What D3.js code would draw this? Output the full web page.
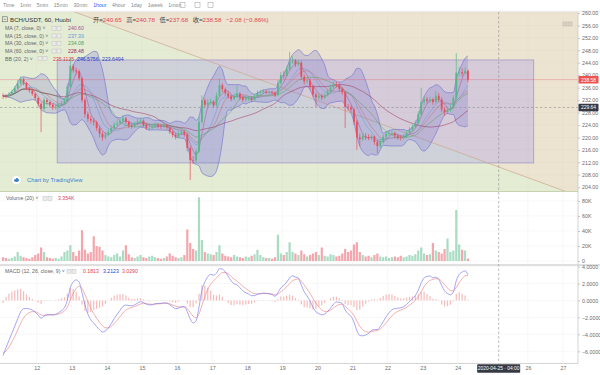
<!DOCTYPE html>
<html><head><meta charset="utf-8">
<script src="https://cdn.jsdelivr.net/npm/d3@7"></script>
<style>
body{margin:0;background:#fff}
svg{display:block}
text{font-family:"Liberation Sans","Noto Sans CJK SC",sans-serif}
</style>
</head><body>
<svg id="c" width="600" height="375"></svg>
<script>
// ---------------- DATA (2-hour bars, BCH/USDT Huobi) ----------------
const startTime = Date.UTC(2020, 3, 11, 0);
const barHours = 2;
const firstOpen = 233.5;
const closes = [233.3,233.2,233.8,234.6,235.8,237.3,238.7,237.5,235.8,235.1,
234.0,232.6,230.8,229.2,232.0,231.4,230.5,229.6,229.8,230.3,
230.9,231.8,236.4,243.0,241.6,241.2,239.0,232.0,227.5,226.0,
225.4,224.9,223.0,221.2,220.0,220.9,221.8,223.0,224.1,224.5,
225.2,226.1,225.0,223.8,223.6,224.4,225.1,225.4,224.0,223.0,
223.0,223.4,224.0,223.6,223.4,223.8,223.2,221.8,220.8,220.2,
221.2,221.8,221.0,216.6,212.7,212.6,215.5,225.0,231.9,230.5,
231.2,231.5,230.3,233.5,236.8,235.5,234.2,233.2,232.3,233.0,
234.0,232.8,232.1,232.5,232.5,232.1,233.1,234.3,234.5,234.8,
234.5,234.5,234.3,233.6,237.5,240.0,239.8,242.0,244.4,244.7,
243.5,244.0,239.5,238.0,238.3,236.3,233.8,232.9,233.4,232.8,
233.6,234.8,236.1,237.1,237.0,235.6,234.5,229.8,229.7,229.0,
225.0,220.0,219.4,220.4,220.1,219.7,220.3,218.5,217.2,218.6,
220.2,221.1,221.4,221.4,220.6,220.0,219.9,220.3,221.5,222.5,
223.4,224.7,227.5,231.4,232.3,231.8,232.2,231.4,233.4,232.2,
229.0,228.1,228.9,229.5,232.7,240.8,241.0,240.6,241.4,238.58];
const highs = [234.2,234.0,234.6,235.3,236.5,238.4,239.6,239.2,237.9,236.3,
235.5,234.3,232.9,231.2,232.8,232.6,231.9,230.9,230.6,231.0,
231.7,232.6,237.3,245.5,243.6,242.5,241.8,239.4,232.6,228.3,
226.9,226.3,225.4,223.6,221.9,221.7,222.6,223.8,225.0,225.5,
226.0,227.2,226.6,225.4,224.5,225.1,226.0,226.2,225.8,224.5,
223.8,224.2,224.8,224.6,224.2,224.5,224.3,223.5,222.3,221.4,
222.0,222.6,222.3,221.5,217.2,214.0,216.4,226.5,233.5,232.6,
232.3,232.5,232.0,234.4,239.0,237.4,236.0,234.8,233.8,233.9,
236.5,234.5,233.4,233.4,233.3,233.2,233.9,235.1,235.3,235.5,
235.3,235.2,235.1,234.8,238.4,241.0,241.3,242.9,247.5,246.0,
245.2,244.9,244.6,240.2,239.5,238.9,236.8,234.5,234.2,234.0,
234.4,235.6,236.9,238.0,237.9,237.5,236.1,234.9,230.8,230.4,
229.5,225.6,221.2,221.5,221.4,221.0,220.9,220.6,219.2,219.5,
221.0,222.0,222.3,222.2,221.9,221.2,220.8,221.1,222.3,223.3,
224.2,225.5,228.4,235.9,233.2,233.0,233.1,232.8,235.0,234.3,
232.9,229.8,229.7,230.5,233.5,247.1,242.6,242.2,242.6,241.9];
const lows = [232.4,232.5,232.8,233.4,234.2,235.4,236.9,236.8,235.2,234.4,
233.4,231.9,229.9,221.7,228.6,230.6,229.8,228.8,228.9,229.3,
230.0,230.5,231.4,236.0,240.8,240.2,238.3,231.2,226.4,225.0,
224.4,223.8,222.1,220.0,218.9,219.4,220.5,221.4,222.6,223.5,
224.0,224.9,224.3,223.0,222.8,223.1,224.0,224.6,223.4,222.4,
222.2,222.6,223.0,222.9,222.7,222.9,222.6,221.1,220.0,219.4,
219.8,220.8,220.2,215.5,206.3,211.5,212.0,215.0,224.5,229.6,
229.8,230.4,229.5,229.9,233.0,234.6,233.4,232.4,231.6,231.8,
232.6,232.0,231.4,231.5,231.7,231.4,231.8,232.7,233.8,233.9,
233.9,233.8,233.6,232.9,233.2,237.0,238.9,239.5,241.5,243.6,
242.6,242.8,238.6,237.0,237.2,235.5,233.0,229.8,232.1,232.0,
232.3,233.2,234.4,235.6,236.1,234.8,233.7,223.0,228.6,228.1,
224.0,216.0,217.2,218.8,219.2,219.1,219.0,217.6,215.0,216.6,
218.0,219.6,220.5,220.6,219.8,219.2,219.0,219.3,219.8,221.0,
222.0,222.9,224.2,227.0,230.4,230.9,231.0,230.5,230.9,231.3,
228.1,227.0,227.5,228.2,229.0,232.0,239.8,239.6,240.2,237.68];
const volumesK = [5,4,3,4,6,12,7,5,4,3,
5,8,10,18,12,5,4,3,4,3,
6,12,14,21,12,7,14,41,15,10,
12,33,20,19,14,8,6,5,8,10,
6,14,21,9,5,4,6,8,5,4,
6,7,5,4,3,4,6,10,7,5,
4,5,8,42,24,16,14,85,28,12,
10,9,8,12,21,10,7,6,5,8,
6,5,4,6,5,7,9,15,8,5,
4,4,3,5,35,10,8,12,25,12,
10,8,14,9,6,8,10,12,8,18,
7,6,9,8,6,7,10,16,12,14,
22,25,12,8,6,7,5,8,10,6,
5,6,4,5,6,5,7,5,6,8,
7,9,14,18,10,8,9,24,14,12,
10,16,30,12,14,68,22,15,14,3.354];
const macdSeed = [-6.5, -6.2];           // MACD / signal at first bar

const dayTicks = [12,13,14,15,16,17,18,19,20,21,22,23,24,26,27];
const priceTicks = [204,208,212,216,220,224,228,232,236,240,244,248,252,256,260];
const volumeTicksK = [0,20,40,60,80];
const macdTicks = [-6,-4,-2,0,2,4];
const toolbarItems = ["Time","1min","5min","15min","30min","1hour","4hour","1day","1week","1mon"];
const activeInterval = "1hour";
const maLegend = ["MA (7, close, 0)","MA (15, close, 0)","MA (30, close, 0)","MA (60, close, 0)"];
const maBars = [4, 8, 15, 30];            // same time spans on 2h bars
const maValues = ["240.60","237.39","234.08","228.48"];
const bbLegend = "BB (20, 2)";
const bbBars = 10;
const bbValues = ["235.1125","246.5756","223.6494"];
const ohlcLabels = ["开=","高=","低=","收="];
const ohlcValues = ["240.65","240.78","237.68","238.58"];
const changeText = "−2.08 (−0.86%)";
const volLegend = "Volume (20)", volValue = "3.354K";
const macdLegend = "MACD (12, 26, close, 9)";
const macdValues = ["0.1813","3.2123","3.0290"];
const lastPrice = 238.58, crossPrice = 229.64;
const crossTime = Date.UTC(2020,3,25,4), crossLabel = "2020-04-25 · 04:00";
const zoneBox = {t1: Date.UTC(2020,3,12,14), t2: Date.UTC(2020,3,26,4), p1: 244.9, p2: 211.8};
const trendLine = [{t: Date.UTC(2020,3,13,1), p: 260.5},{t: Date.UTC(2020,3,26,12), p: 205}];

// ---------------- LAYOUT ----------------
const svg = d3.select("#c");
const R = 578, mainTop = 12, mainBot = 191.5, macdTop = 265, macdBot = 363.5;
const x = d3.scaleUtc().domain([new Date(Date.UTC(2020,3,12)), new Date(Date.UTC(2020,3,27))]).range([36.7, 563]);
const yP = d3.scaleLinear().domain([204,260]).range([187.2,13]);
const yV = d3.scaleLinear().domain([0,80]).range([261,201]);
const yM = d3.scaleLinear().domain([-6,4]).range([351.3,266.6]);

const bars = closes.map((c,i)=>({
  t: new Date(startTime + (i*barHours + barHours/2)*3600e3),
  o: i ? closes[i-1] : firstOpen, c, h: highs[i], l: lows[i], v: volumesK[i]
}));
function sma(i,n){const s=Math.max(0,i-n+1);const a=closes.slice(s,i+1);return d3.mean(a);}
bars.forEach((b,i)=>{
  b.ma = maBars.map(n=>sma(i,n));
  const s=Math.max(0,i-bbBars+1), a=closes.slice(s,i+1), m=d3.mean(a);
  const sd=Math.sqrt(d3.mean(a.map(v=>(v-m)*(v-m))));
  b.bbM=m; b.bbU=m+2*sd; b.bbL=m-2*sd;
});
// MACD (12,26,9 hourly == 6,13,4.5 on 2h bars)
{
  const kF=2/7, kS=2/14, kG=2/5.5;
  let ef=closes[0], es=closes[0]-macdSeed[0], sg=macdSeed[1];
  bars.forEach((b,i)=>{
    if(i){ef+=kF*(b.c-ef); es+=kS*(b.c-es);}
    b.macd=ef-es; if(i) sg+=kG*(b.macd-sg); b.sig=sg; b.hist=b.macd-b.sig;
  });
}

const defs = svg.append("defs");
defs.append("clipPath").attr("id","cm").append("rect").attr("x",0).attr("y",mainTop).attr("width",R).attr("height",mainBot-mainTop);
defs.append("clipPath").attr("id","cv").append("rect").attr("x",0).attr("y",192).attr("width",R).attr("height",macdTop-192);
defs.append("clipPath").attr("id","cd").append("rect").attr("x",0).attr("y",macdTop).attr("width",R).attr("height",macdBot-macdTop);

// toolbar
{
  const tb = svg.append("g");
  let cx = 3;
  toolbarItems.forEach(s=>{
    const t = tb.append("text").attr("x",cx).attr("y",7).text(s)
      .attr("font-size",5.2).attr("fill", s===activeInterval ? "#2962ff" : "#8a8a8a");
    cx += t.node().getComputedTextLength() + 5.6;
  });
  [180,195,208].forEach(ix=>{
    tb.append("rect").attr("x",ix).attr("y",2.5).attr("width",5).attr("height",5).attr("fill","none").attr("stroke","#9a9a9a").attr("stroke-width",0.5);
  });
  tb.append("line").attr("x1",0).attr("x2",600).attr("y1",11.3).attr("y2",11.3).attr("stroke","#e3e3e3").attr("stroke-width",0.8);
}

// main pane background
const gm = svg.append("g").attr("clip-path","url(#cm)");
gm.append("rect").attr("x",0).attr("y",mainTop).attr("width",R).attr("height",mainBot-mainTop).attr("fill","#e5ecd4");
const tx1=x(new Date(trendLine[0].t)), ty1=yP(trendLine[0].p), tx2=x(new Date(trendLine[1].t)), ty2=yP(trendLine[1].p);
const slope=(ty2-ty1)/(tx2-tx1), xAt=yy=>tx1+(yy-ty1)/slope;
gm.append("polygon").attr("points",[[xAt(mainTop),mainTop],[R,mainTop],[R,mainBot],[xAt(mainBot),mainBot]].map(p=>p.join(",")).join(" ")).attr("fill","#ede3d1");
// faint grid
gm.selectAll(".vg").data(dayTicks).join("line").attr("x1",d=>x(new Date(Date.UTC(2020,3,d)))).attr("x2",d=>x(new Date(Date.UTC(2020,3,d))))
  .attr("y1",mainTop).attr("y2",mainBot).attr("stroke","rgba(0,0,0,0.035)").attr("stroke-width",0.6);
gm.selectAll(".hg").data(priceTicks).join("line").attr("x1",0).attr("x2",R).attr("y1",d=>yP(d)).attr("y2",d=>yP(d)).attr("stroke","rgba(0,0,0,0.03)").attr("stroke-width",0.6);
// zone rectangle
gm.append("rect").attr("x",x(new Date(zoneBox.t1))).attr("y",yP(zoneBox.p1))
  .attr("width",x(new Date(zoneBox.t2))-x(new Date(zoneBox.t1))).attr("height",yP(zoneBox.p2)-yP(zoneBox.p1))
  .attr("fill","rgba(150,140,235,0.27)").attr("stroke","#9a92c8").attr("stroke-width",0.7);
// trend line
gm.append("line").attr("x1",xAt(mainTop-5)).attr("y1",mainTop-5).attr("x2",xAt(mainBot+5)).attr("y2",mainBot+5).attr("stroke","#c9a98e").attr("stroke-width",0.7);
// Bollinger
gm.append("path").datum(bars).attr("d",d3.area().x(d=>x(d.t)).y0(d=>yP(d.bbL)).y1(d=>yP(d.bbU)).curve(d3.curveMonotoneX))
  .attr("fill","rgba(100,100,205,0.22)");
[["bbU","#7b7bd0"],["bbL","#7b7bd0"],["bbM","rgba(205,110,110,0.7)"]].forEach(([k,c])=>{
  gm.append("path").datum(bars).attr("d",d3.line().x(d=>x(d.t)).y(d=>yP(d[k])).curve(d3.curveMonotoneX))
    .attr("fill","none").attr("stroke",c).attr("stroke-width",0.7);
});
// MA lines
const maColors = ["#a4558f","#6b98d6","#58a058","#9a2c58"];
maBars.forEach((n,j)=>{
  gm.append("path").datum(bars).attr("d",d3.line().x(d=>x(d.t)).y(d=>yP(d.ma[j])).curve(d3.curveMonotoneX))
    .attr("fill","none").attr("stroke",maColors[j]).attr("stroke-opacity",0.7).attr("stroke-width",0.7);
});
// candles
const up="#53b987", dn="#eb4d5c";
const cg = gm.append("g");
cg.selectAll("line").data(bars).join("line").attr("x1",d=>x(d.t)).attr("x2",d=>x(d.t))
  .attr("y1",d=>yP(d.h)).attr("y2",d=>yP(d.l)).attr("stroke",d=>d.c>=d.o?up:dn).attr("stroke-width",0.7);
cg.selectAll("rect").data(bars).join("rect").attr("x",d=>x(d.t)-0.9).attr("width",1.8)
  .attr("y",d=>yP(Math.max(d.o,d.c))).attr("height",d=>Math.max(0.6,Math.abs(yP(d.o)-yP(d.c))))
  .attr("fill",d=>d.c>=d.o?up:dn);
// last price line & crosshair
gm.append("line").attr("x1",0).attr("x2",R).attr("y1",yP(lastPrice)).attr("y2",yP(lastPrice)).attr("stroke","rgba(235,77,92,0.45)").attr("stroke-width",0.7);
gm.append("line").attr("x1",0).attr("x2",R).attr("y1",yP(crossPrice)).attr("y2",yP(crossPrice)).attr("stroke","#8f8f8f").attr("stroke-width",0.6).attr("stroke-dasharray","2.5,2");
// top-right small buttons
[563,568].forEach(ix=>gm.append("rect").attr("x",ix).attr("y",22).attr("width",4).attr("height",4).attr("fill","#d9d2c4").attr("stroke","#b5ad9f").attr("stroke-width",0.4));

// pane borders
svg.append("line").attr("x1",0).attr("x2",R).attr("y1",mainBot).attr("y2",mainBot).attr("stroke","#c8d2b0").attr("stroke-width",1);

// volume pane
const gv = svg.append("g").attr("clip-path","url(#cv)");
gv.selectAll(".vg").data(dayTicks).join("line").attr("x1",d=>x(new Date(Date.UTC(2020,3,d)))).attr("x2",d=>x(new Date(Date.UTC(2020,3,d))))
  .attr("y1",192).attr("y2",macdTop).attr("stroke","#f2f2f2").attr("stroke-width",0.6);
gv.selectAll(".hg").data(volumeTicksK).join("line").attr("x1",0).attr("x2",R).attr("y1",d=>yV(d)).attr("y2",d=>yV(d)).attr("stroke","#f3f3f3").attr("stroke-width",0.6);
gv.selectAll("rect").data(bars).join("rect").attr("x",d=>x(d.t)-1.1).attr("width",2.2)
  .attr("y",d=>yV(d.v)).attr("height",d=>yV(0)-yV(d.v))
  .attr("fill",d=>d.c>=d.o?"rgba(83,185,135,0.5)":"rgba(235,77,92,0.5)");
svg.append("line").attr("x1",0).attr("x2",600).attr("y1",macdTop).attr("y2",macdTop).attr("stroke","#b9b9b9").attr("stroke-width",0.9);

// MACD pane
const gd = svg.append("g").attr("clip-path","url(#cd)");
gd.selectAll(".vg").data(dayTicks).join("line").attr("x1",d=>x(new Date(Date.UTC(2020,3,d)))).attr("x2",d=>x(new Date(Date.UTC(2020,3,d))))
  .attr("y1",macdTop).attr("y2",macdBot).attr("stroke","#f2f2f2").attr("stroke-width",0.6);
gd.selectAll(".hg").data(macdTicks).join("line").attr("x1",0).attr("x2",R).attr("y1",d=>yM(d)).attr("y2",d=>yM(d)).attr("stroke","#f3f3f3").attr("stroke-width",0.6);
gd.selectAll("rect").data(bars).join("rect").attr("x",d=>x(d.t)-0.6).attr("width",1.2)
  .attr("y",d=>Math.min(yM(0),yM(d.hist))).attr("height",d=>Math.abs(yM(d.hist)-yM(0)))
  .attr("fill","rgba(238,120,120,0.5)");
gd.append("path").datum(bars).attr("d",d3.line().x(d=>x(d.t)).y(d=>yM(d.sig)).curve(d3.curveMonotoneX)).attr("fill","none").attr("stroke","#f08c8c").attr("stroke-width",0.7);
gd.append("path").datum(bars).attr("d",d3.line().x(d=>x(d.t)).y(d=>yM(d.macd)).curve(d3.curveMonotoneX)).attr("fill","none").attr("stroke","#8080f0").attr("stroke-width",0.7);
svg.append("line").attr("x1",0).attr("x2",R).attr("y1",macdBot).attr("y2",macdBot).attr("stroke","#c9c9c9").attr("stroke-width",0.8);

// crosshair vertical
svg.append("line").attr("x1",x(new Date(crossTime))).attr("x2",x(new Date(crossTime))).attr("y1",mainTop).attr("y2",macdBot)
  .attr("stroke","#8f8f8f").attr("stroke-width",0.6).attr("stroke-dasharray","2.5,2");

// right axis line
svg.append("line").attr("x1",R).attr("x2",R).attr("y1",mainTop).attr("y2",macdBot).attr("stroke","#c9c9c9").attr("stroke-width",0.8);

function styleAxis(g){
  g.select(".domain").remove();
  g.selectAll(".tick line").attr("stroke","#9a9a9a").attr("stroke-width",0.5);
  g.selectAll(".tick text").attr("fill","#6a6a6a").attr("font-size",5.3).attr("font-family","Liberation Sans, sans-serif");
}
svg.append("g").attr("transform",`translate(${R},0)`)
  .call(d3.axisRight(yP).tickValues(priceTicks).tickFormat(d3.format(".2f")).tickSize(2).tickPadding(2)).call(styleAxis);
svg.append("g").attr("transform",`translate(${R},0)`)
  .call(d3.axisRight(yV).tickValues(volumeTicksK).tickFormat(d=>d===0?"0":d+"K").tickSize(2).tickPadding(2)).call(styleAxis);
svg.append("g").attr("transform",`translate(${R},0)`)
  .call(d3.axisRight(yM).tickValues(macdTicks).tickFormat(d3.format(".4f")).tickSize(2).tickPadding(2)).call(styleAxis);
svg.append("g").attr("transform",`translate(0,${macdBot})`)
  .call(d3.axisBottom(x).tickValues(dayTicks.map(d=>new Date(Date.UTC(2020,3,d)))).tickFormat(d3.utcFormat("%-d")).tickSize(0).tickPadding(2.5))
  .call(styleAxis);

// axis label boxes
function box(xx,yy,w,h,fill,txt,fs){
  svg.append("rect").attr("x",xx).attr("y",yy).attr("width",w).attr("height",h).attr("fill",fill).attr("rx",0.8);
  svg.append("text").attr("x",xx+w/2).attr("y",yy+h/2+1.8).attr("text-anchor","middle").attr("fill","#fff").attr("font-size",fs||5.1).text(txt);
}
box(578.5,yP(lastPrice)-3.6,20,7.4,"#ef5350",d3.format(".2f")(lastPrice),4.9);
box(578.5,yP(crossPrice)-3.6,20,7.4,"#363a45",d3.format(".2f")(crossPrice),4.9);
box(x(new Date(crossTime))-21.5,364.3,43,8.5,"#363a45",crossLabel,4.9);

// legends
const L = svg.append("g");
function icons(xx,yy){
  [0,5].forEach(dx=>L.append("rect").attr("x",xx+dx).attr("y",yy-3.8).attr("width",4).attr("height",4).attr("fill","#ececec").attr("stroke","#b8b8b8").attr("stroke-width",0.4));
}
function txt(xx,yy,s,fill,size){return L.append("text").attr("x",xx).attr("y",yy).text(s).attr("fill",fill).attr("font-size",size||5.2);}
// title row
L.append("rect").attr("x",2.5).attr("y",16.8).attr("width",5).attr("height",5).attr("fill","none").attr("stroke","#555").attr("stroke-width",0.5);
L.append("line").attr("x1",3.8).attr("x2",6.2).attr("y1",19.3).attr("y2",19.3).attr("stroke","#555").attr("stroke-width",0.5);
txt(10,22,"BCH/USDT, 60, Huobi","#333",6.2);
{
  let cx = 93;
  ohlcLabels.forEach((lab,i)=>{
    const a = txt(cx,22,lab,"#444",6.2); cx += a.node().getComputedTextLength();
    const b = txt(cx,22,ohlcValues[i],"#e0474c",6.2); cx += b.node().getComputedTextLength()+4.5;
  });
  txt(cx,22,changeText,"#e0474c",6.2);
}
const maRowsY = [30.2,37.7,45.2,52.8];
maLegend.forEach((s,i)=>{
  txt(5,maRowsY[i],s+" ˅","#666");
  icons(52,maRowsY[i]);
  txt(68,maRowsY[i],maValues[i],maColors[i]);
});
txt(5,60.5,bbLegend+" ˅","#666"); icons(38,60.5);
txt(53,60.5,bbValues[0],"#e0454f"); txt(77,60.5,bbValues[1],"#2a3ccc"); txt(102,60.5,bbValues[2],"#2a3ccc");
txt(6,200.2,volLegend+" ˅","#666"); icons(43,200.2); txt(58,200.2,volValue,"#e0454f");
txt(5,273,macdLegend+" ˅","#666"); icons(67,273);
txt(83,273,macdValues[0],"#e0454f"); txt(103,273,macdValues[1],"#2a3ccc"); txt(122,273,macdValues[2],"#e0454f");

// TradingView badge
L.append("circle").attr("cx",16.5).attr("cy",180).attr("r",4.6).attr("fill","#fff").attr("stroke","#d6dcc8").attr("stroke-width",0.4);
L.append("ellipse").attr("cx",16.5).attr("cy",180.5).attr("rx",2.6).attr("ry",1.4).attr("fill","#3d7fc9");
L.append("circle").attr("cx",17.1).attr("cy",179.4).attr("r",1.3).attr("fill","#3d7fc9");
txt(27,182,"Chart by TradingView","#3c7dd0",5.8);
</script>
</body></html>
